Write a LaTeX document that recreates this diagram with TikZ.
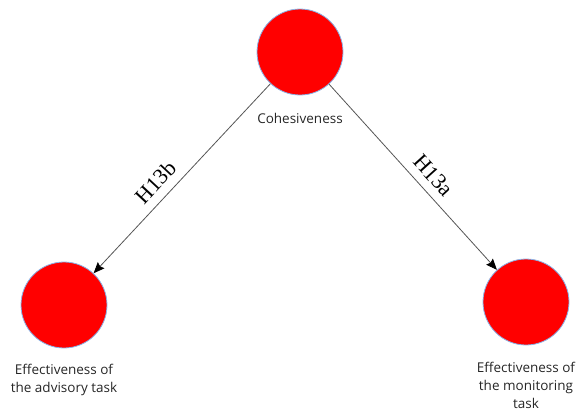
\documentclass[tikz,border=0pt]{standalone}
\usepackage{fontspec}
\setmainfont{Liberation Serif}
\newfontfamily\labelfont{Open Sans}
\usetikzlibrary{arrows.meta}
\definecolor{nodered}{HTML}{FF0000}
\definecolor{rimblue}{HTML}{8AB4E8}
\definecolor{linkgray}{HTML}{555555}
\tikzset{
  construct/.style={circle, fill=nodered, draw=rimblue, line width=0.8pt,
    minimum size=86pt, inner sep=0pt},
  caption/.style={font=\labelfont\fontsize{13.5}{18}\selectfont, text=black!85,
    align=center},
  link/.style={draw=linkgray, line width=0.8pt,
    -{Stealth[length=11pt, width=9pt, inset=1.5pt, color=black]}},
  hyp/.style={font=\fontsize{22}{24}\selectfont, sloped, above=5pt}
}
\begin{document}
\begin{tikzpicture}[x=1pt, y=-1pt]
  \useasboundingbox (0,0) rectangle (576,410);
  \node[construct] (coh) at (300,52) {};
  \node[construct] (adv) at (64,305) {};
  \node[construct] (mon) at (526,302) {};
  \node[caption] (cohlab) at (300,118) {Cohesiveness};
  \node[caption, anchor=north] (advlab) at (64,361) {Effectiveness of\\the advisory task};
  \node[caption, anchor=north] (monlab) at (526,359) {Effectiveness of\\the monitoring\\task};
  \draw[link] (coh) -- node[hyp, pos=0.58] {H13b} (adv);
  \draw[link] (coh) -- node[hyp, pos=0.55] {H13a} (mon);
\end{tikzpicture}
\end{document}
